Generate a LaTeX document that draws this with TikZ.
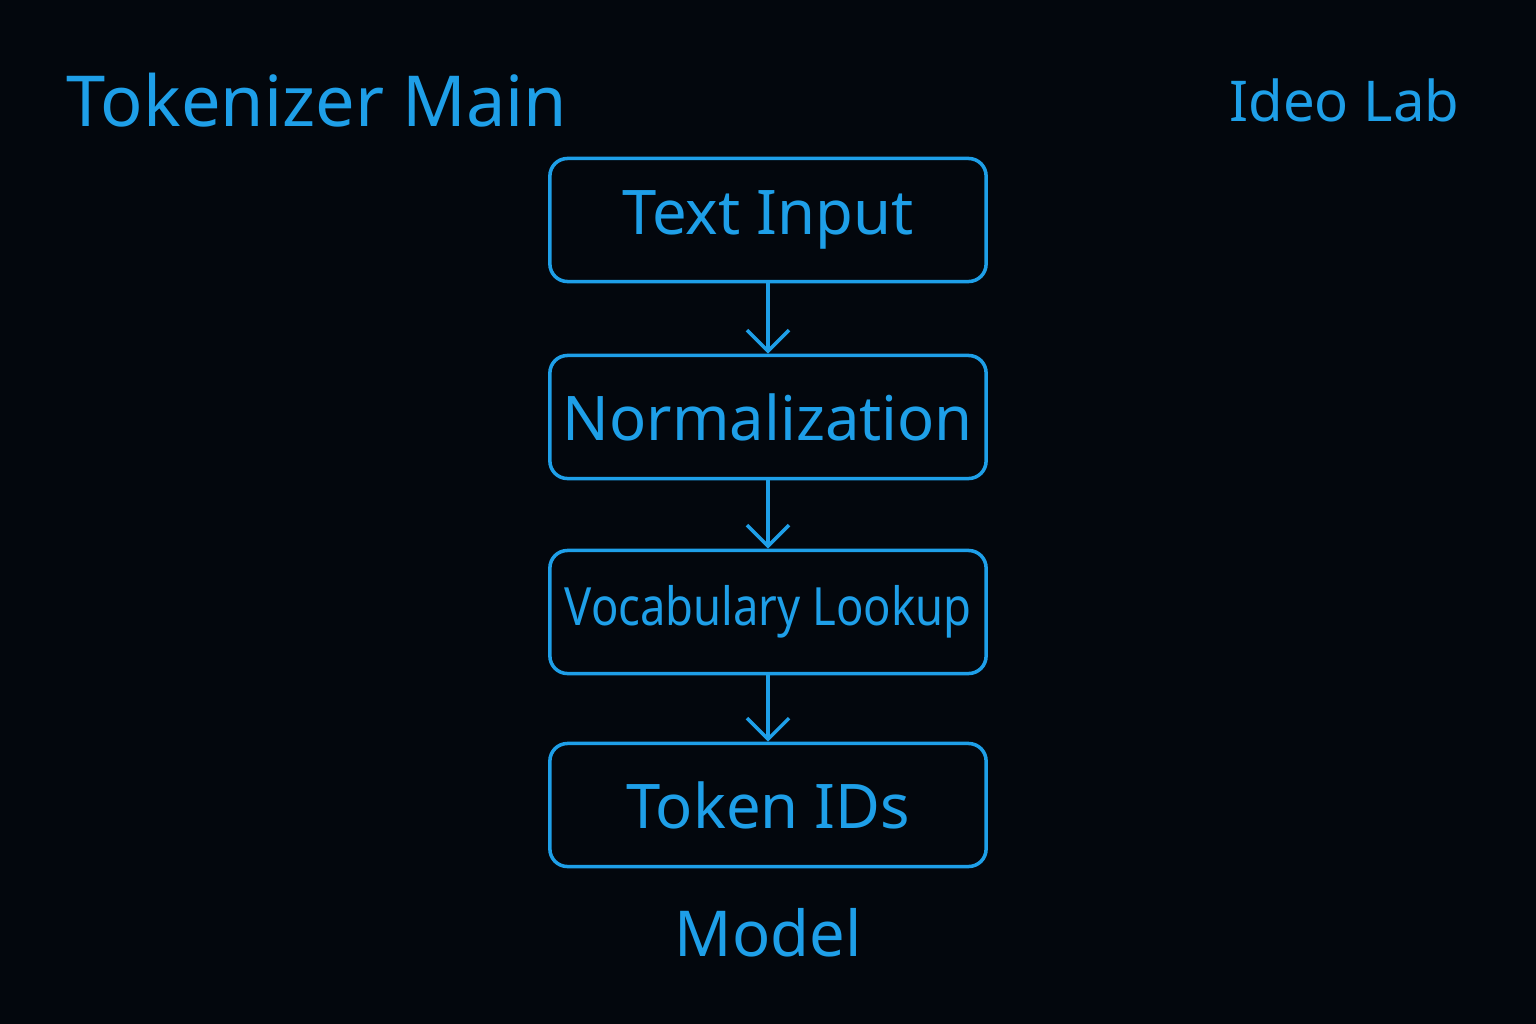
\documentclass[tikz,border=0pt]{standalone}
\usepackage{fontspec}
\setmainfont{Noto Sans}
\usetikzlibrary{arrows.meta}
\definecolor{bg}{HTML}{03070D}
\definecolor{fg}{HTML}{1E9FE8}
\begin{document}
\begin{tikzpicture}[x=0.01cm,y=-0.01cm,
  box/.style={draw=fg,line width=1pt,rounded corners=5pt,minimum width=4.36cm,minimum height=1.23cm,text=fg,font=\fontsize{17.5}{20}\selectfont},
  arr/.style={draw=fg,line width=1pt,-{Straight Barb[length=6pt,width=12pt]}},
  lbl/.style={text=fg,inner sep=0pt}]
\fill[bg] (0,0) rectangle (1536,1024);
\useasboundingbox (0,0) rectangle (1536,1024);
\node[lbl,anchor=west,font=\fontsize{20}{24}\selectfont] (title) at (66,100) {Tokenizer Main};
\node[lbl,anchor=east,font=\fontsize{16}{20}\selectfont] (lab) at (1460,100) {Ideo Lab};
\node[box] (t) at (768,220) {Text Input};
\node[box] (n) at (768,417) {Normalization};
\node[box,font=\fontsize{15}{18}\selectfont] (v) at (768,612) {\addfontfeature{FakeStretch=0.86}Vocabulary Lookup};
\node[box] (k) at (768,805) {Token IDs};
\node[lbl,font=\fontsize{18}{22}\selectfont] (m) at (768,933) {Model};
\draw[arr] (t) -- (n);
\draw[arr] (n) -- (v);
\draw[arr] (v) -- (k);
\end{tikzpicture}
\end{document}
